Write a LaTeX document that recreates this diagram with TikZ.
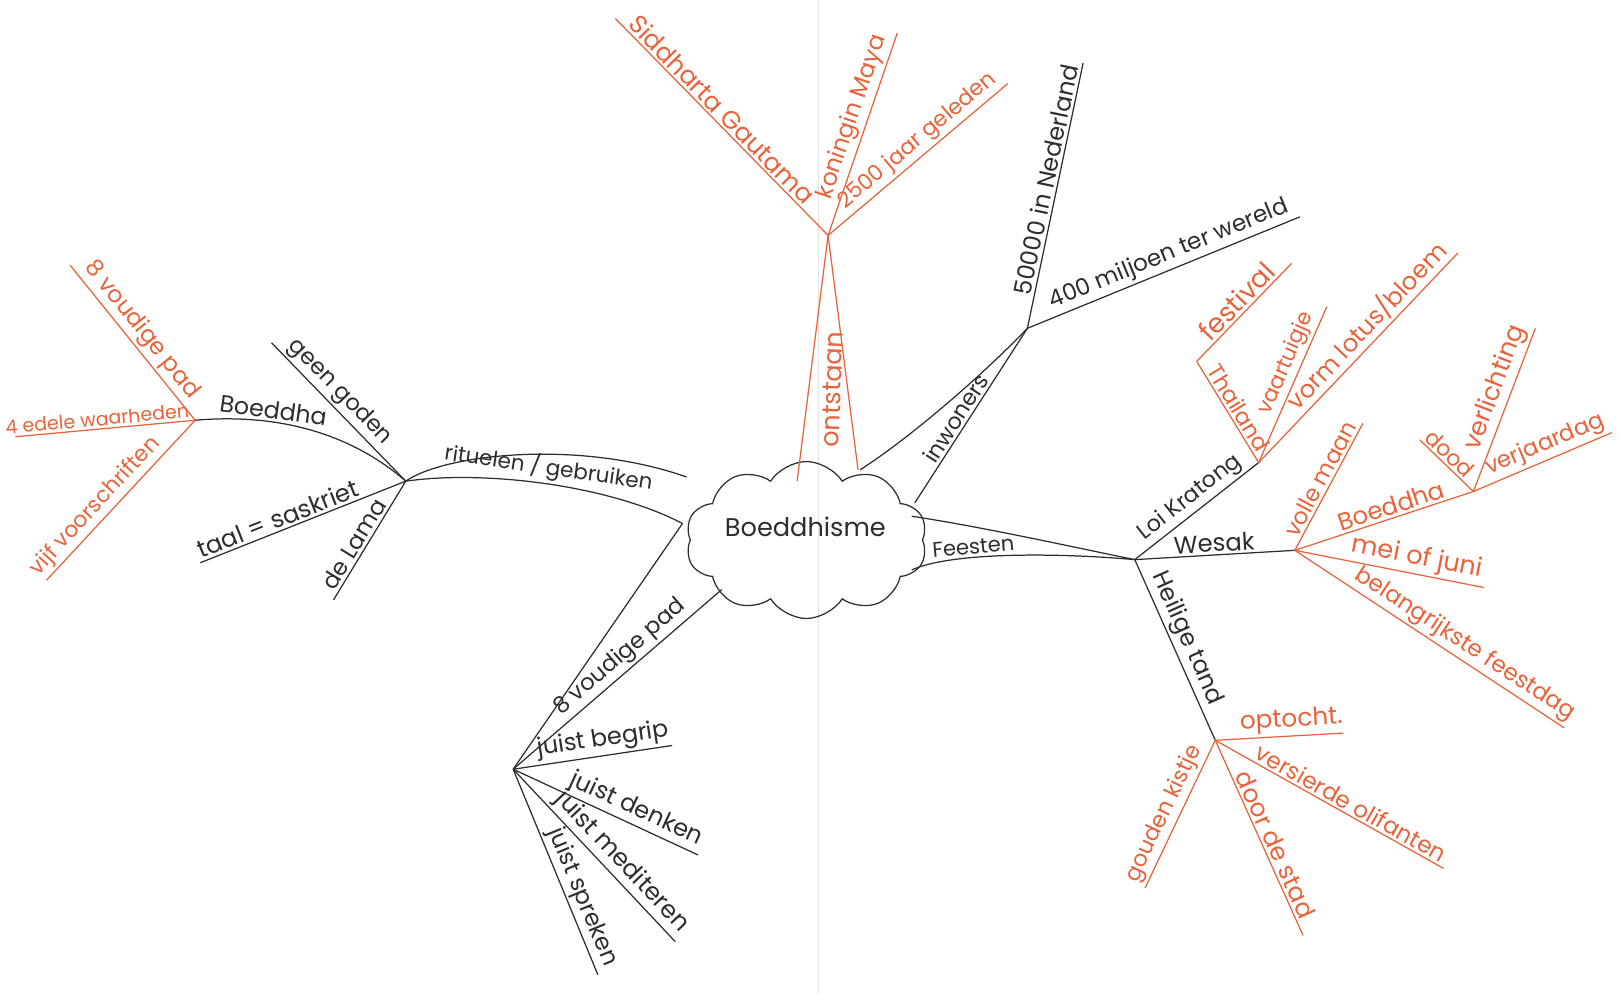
\documentclass[tikz,border=0pt]{standalone}
\usepackage{fontspec}
\setmainfont{Poppins}
\usetikzlibrary{shapes.symbols}
\definecolor{ink}{RGB}{45,45,45}
\definecolor{ora}{RGB}{232,98,58}
\begin{document}
\begin{tikzpicture}[x=0.5pt,y=-0.5pt,
  br/.style={draw=ink, line width=0.6pt},
  obr/.style={draw=ora, line width=0.6pt},
  fs/.style={font=\fontsize{#1}{#1}\selectfont},
  lb/.style={sloped, above, inner sep=1.2pt, text=ink, fs=11},
  olb/.style={lb, text=ora},
]
\useasboundingbox (0,0) rectangle (1568,962);
% fold line of the paper
\coordinate (f1) at (793,0);
\coordinate (f2) at (793,962);
\draw[gray!22, line width=0.4pt] (f1) -- (f2);

% centre
\node[cloud, cloud puffs=10, cloud puff arc=115, cloud ignores aspect, draw=ink, line width=0.6pt,
      minimum width=117pt, minimum height=76pt] (cl) at (781,523) {};
\node[text=ink, fs=12.4] (title) at (780,510) {Boeddhisme};

% hubs
\coordinate (L) at (393,466);
\coordinate (O1) at (189,407);
\coordinate (T) at (802,228);
\coordinate (I) at (995,318);
\coordinate (R) at (1099,542);
\coordinate (KR) at (1219,448);
\coordinate (WE) at (1254,533);
\coordinate (HT) at (1177,717);
\coordinate (B) at (497,745);
\coordinate (BO) at (1427,476);
\coordinate (TH) at (1159,350);

% attachment points at the cloud
\coordinate (ru) at (665,462);
\coordinate (rl) at (661,507);
\coordinate (ol) at (772,466);
\coordinate (or) at (831,455);
\coordinate (io) at (833,455);
\coordinate (ii) at (886,487);
\coordinate (fu) at (883,500);
\coordinate (fl) at (883,552);
\coordinate (vi) at (699,571);

% ends
\coordinate (eGeen) at (263,332);
\coordinate (eTaal) at (194,545);
\coordinate (eLama) at (323,581);
\coordinate (e8o) at (68,257);
\coordinate (e4) at (15,423);
\coordinate (eVijf) at (45,562);
\coordinate (eSid) at (596,18);
\coordinate (eKon) at (869,32);
\coordinate (e2500) at (976,81);
\coordinate (e5) at (1049,61);
\coordinate (e400) at (1259,210);
\coordinate (eFest) at (1251,255);
\coordinate (eVaar) at (1285,297);
\coordinate (eVorm) at (1412,245);
\coordinate (eVol) at (1320,410);
\coordinate (eDood) at (1375,426);
\coordinate (eVerl) at (1487,318);
\coordinate (eVerj) at (1561,419);
\coordinate (eMei) at (1437,569);
\coordinate (eBel) at (1515,705);
\coordinate (eOpt) at (1301,710);
\coordinate (eOli) at (1398,841);
\coordinate (eStad) at (1262,906);
\coordinate (eKist) at (1109,860);
\coordinate (eJb) at (651,722);
\coordinate (eJd) at (676,828);
\coordinate (eJm) at (654,912);
\coordinate (eJs) at (579,944);

% ---- left: rituelen / gebruiken
\draw[br] (L) .. controls (430,440) and (560,425) .. (ru);
\draw[br] (L) .. controls (470,455) and (590,470) .. node[lb, fs=10.4, pos=0.5] (tRit) {rituelen / gebruiken} (rl);
\draw[br] (L) .. controls (340,420) and (270,400) .. node[lb, fs=11.5, pos=0.68] (tBoe) {Boeddha} (O1);
\draw[br] (L) -- node[lb, pos=0.57] (tGeen) {geen goden} (eGeen);
\draw[br] (L) -- node[lb, fs=11.8, pos=0.6] (tTaal) {taal = saskriet} (eTaal);
\draw[br] (L) -- node[lb, fs=11.2, pos=0.58] (tLama) {de Lama} (eLama);
\draw[obr] (O1) -- node[olb, fs=11.3, pos=0.52] (t8o) {8 voudige pad} (e8o);
\draw[obr] (O1) -- node[olb, fs=9.2, pos=0.54] (t4) {4 edele waarheden} (e4);
\draw[obr] (O1) -- node[olb, fs=10.6, pos=0.6] (tVijf) {vijf voorschriften} (eVijf);

% ---- top: ontstaan
\draw[obr] (T) -- (ol);
\draw[obr] (T) -- (or);
\node[text=ora, fs=12.4, rotate=88] (tOnt) at (806,377) {ontstaan};
\draw[obr] (T) -- node[olb, fs=12.2, pos=0.54] (tSid) {Siddharta Gautama} (eSid);
\draw[obr] (T) -- node[olb, fs=11.4, pos=0.56] (tKon) {koningin Maya} (eKon);
\draw[obr] (T) -- node[olb, fs=10.6, pos=0.55] (t2500) {2500 jaar geleden} (e2500);

% ---- inwoners
\draw[br] (io) .. controls (880,425) and (950,365) .. (I);
\draw[br] (ii) -- node[lb, fs=10.8, pos=0.45] (tInw) {inwoners} (I);
\draw[br] (I) -- node[lb, fs=11.6, pos=0.55] (t5) {50000 in Nederland} (e5);
\draw[br] (I) -- node[lb, fs=11.2, pos=0.54] (t400) {400 miljoen ter wereld} (e400);

% ---- Feesten
\draw[br] (fu) .. controls (950,510) and (1040,530) .. (R);
\draw[br] (fl) .. controls (920,535) and (1020,535) .. node[lb, fs=10.2, pos=0.36] (tFee) {Feesten} (R);
\draw[br] (R) -- node[lb, fs=10.8, pos=0.52] (tLoi) {Loi Kratong} (KR);
\draw[br] (R) -- node[lb, fs=11.8, pos=0.5] (tWes) {Wesak} (WE);
\draw[br] (R) -- node[lb, fs=11.6, pos=0.47] (tHei) {Heilige tand} (HT);

% Loi Kratong
\draw[obr] (KR) -- node[olb, fs=10.8, pos=0.48] (tTha) {Thailand} (TH);
\draw[obr] (TH) -- node[olb, fs=13, pos=0.52] (tFes) {festival} (eFest);
\draw[obr] (KR) -- node[olb, fs=10.4, pos=0.6] (tVaa) {vaartuigje} (eVaar);
\draw[obr] (KR) -- node[olb, fs=11.8, pos=0.6] (tVor) {vorm lotus/bloem} (eVorm);

% Wesak
\draw[obr] (WE) -- node[olb, fs=11, pos=0.52] (tVol) {volle maan} (eVol);
\draw[obr] (WE) -- node[olb, fs=11.8, pos=0.56] (tBo2) {Boeddha} (BO);
\draw[obr] (eDood) -- node[olb, fs=10.6, pos=0.42] (tDood) {dood} (BO);
\draw[obr] (BO) -- node[olb, fs=12.2, pos=0.6] (tVerl) {verlichting} (eVerl);
\draw[obr] (BO) -- node[olb, fs=11, pos=0.56] (tVerj) {verjaardag} (eVerj);
\draw[obr] (WE) -- node[olb, fs=12.4, pos=0.63] (tMei) {mei of juni} (eMei);
\draw[obr] (WE) -- node[olb, fs=11.2, pos=0.6] (tBel) {belangrijkste feestdag} (eBel);

% Heilige tand
\draw[obr] (HT) -- node[olb, fs=12, pos=0.6] (tOpt) {optocht.} (eOpt);
\draw[obr] (HT) -- node[olb, fs=11.2, pos=0.57] (tOli) {versierde olifanten} (eOli);
\draw[obr] (HT) -- node[olb, fs=12, pos=0.56] (tSta) {door de stad} (eStad);
\draw[obr] (HT) -- node[olb, fs=10.8, pos=0.54] (tKis) {gouden kistje} (eKist);

% ---- 8 voudige pad
\draw[br] (rl) -- (B);
\draw[br] (vi) -- node[lb, fs=11, pos=0.44] (t8b) {8 voudige pad} (B);
\draw[br] (B) -- node[lb, fs=11.6, pos=0.58] (tJb) {juist begrip} (eJb);
\draw[br] (B) -- node[lb, fs=11.6, pos=0.63] (tJd) {juist denken} (eJd);
\draw[br] (B) -- node[lb, fs=11.8, pos=0.6] (tJm) {juist mediteren} (eJm);
\draw[br] (B) -- node[lb, fs=11.4, pos=0.65] (tJs) {juist spreken} (eJs);
\end{tikzpicture}
\end{document}
